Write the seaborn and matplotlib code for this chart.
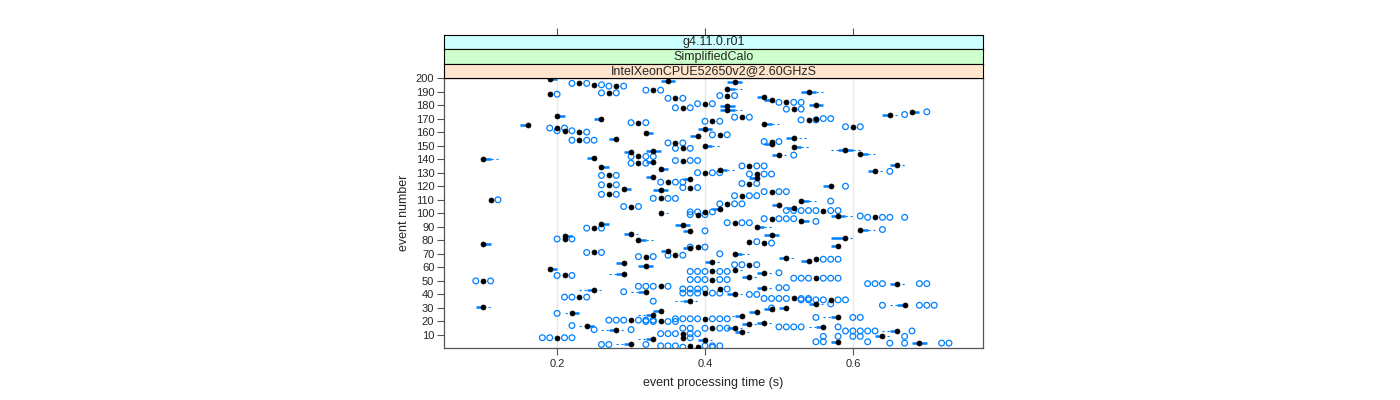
import matplotlib
matplotlib.use("Agg")
import matplotlib.pyplot as plt
import pandas as pd
import seaborn as sns

# events where the box collapsed onto the median (only dot + outliers)
dot_event = [196, 195, 194, 189, 188, 163, 161, 160, 154, 128, 121, 114, 110, 105,
             191, 187, 185, 182, 181, 171, 178, 177, 169, 170, 168, 164, 158, 102,
             153, 139, 135, 130, 129, 122, 119, 116, 113, 107, 167, 152, 148, 142,
             137, 123, 111, 101, 99,
             97, 96, 93, 89, 81, 79, 78, 75, 71, 69, 68, 66, 62, 57, 54, 52, 51, 50,
             46, 44, 41, 38, 37, 36, 22, 21, 20, 15, 11, 8, 8, 2, 1]
dot_median = [.23, .25, .28, .27, .19, .20, .21, .23, .23, .27, .27, .27, .11, .30,
              .33, .43, .36, .51, .40, .45, .37, .52, .54, .55, .41, .60, .42, .56,
              .49, .37, .46, .40, .47, .46, .38, .49, .45, .43, .31, .36, .37, .31,
              .31, .35, .34, .40, .39,
              .63, .49, .44, .25, .21, .46, .48, .39, .25, .36, .32, .55, .46, .41, .21, .55, .41, .10,
              .34, .42, .40, .23, .52, .57, .40, .30, .34, .41, .37, .20, .37, .38, .39]

# events with a visible box / whiskers
box_event = [199, 172, 170, 165, 155, 141, 140, 134, 118, 198, 197, 192, 186, 184,
             190, 180, 179, 176, 173, 175, 166, 162, 157, 156, 149, 147, 144, 136,
             131, 120, 109, 151, 143, 132, 126, 125, 103, 106, 104, 159, 150, 146,
             145, 138, 133, 127, 117, 100,
             98, 94, 92, 91, 90, 88, 87, 85, 84, 83, 82, 80, 77, 76, 74, 72, 70, 67,
             65, 64, 63, 61, 59, 58, 56, 55, 53, 48, 45, 43, 42, 40, 35, 33, 32, 31,
             30, 29, 28, 27, 26, 25, 24, 23, 19, 18, 17, 16, 15, 14, 13, 12, 9, 7, 6,
             5, 4, 3]
box_median = [.19, .20, .26, .16, .28, .25, .10, .26, .29, .35, .44, .43, .48, .49,
              .54, .55, .43, .43, .65, .68, .48, .40, .39, .52, .52, .59, .61, .66,
              .63, .57, .53, .49, .50, .42, .47, .38, .42, .50, .52, .32, .40, .33,
              .30, .33, .34, .33, .34, .34,
              .58, .53, .26, .37, .47, .61, .38, .30, .49, .21, .59, .31, .10, .58, .38, .35, .44, .51,
              .54, .41, .29, .32, .19, .44, .48, .29, .46, .66, .48, .25, .32, .44, .38, .55, .67, .10,
              .51, .49, .34, .47, .22, .33, .45, .58, .48, .46, .24, .56, .44, .28, .66, .45, .64, .33, .40,
              .58, .69, .30]
box_q1 = [.19, .20, .25, .15, .27, .24, .10, .26, .29, .34, .43, .43, .47, .48,
          .53, .54, .42, .42, .64, .68, .48, .39, .38, .51, .52, .58, .61, .65,
          .62, .56, .53, .48, .49, .42, .46, .37, .41, .49, .51, .32, .40, .32,
          .29, .32, .34, .32, .33, .34,
          .57, .53, .26, .36, .47, .61, .37, .29, .48, .21, .57, .31, .10, .57, .37, .34, .44, .50,
          .53, .40, .28, .31, .19, .44, .47, .28, .45, .65, .47, .24, .31, .43, .37, .54, .66, .09,
          .50, .48, .33, .46, .22, .32, .44, .57, .47, .45, .24, .55, .43, .27, .65, .44, .63, .32, .39,
          .57, .68, .29]
box_q3 = [.20, .21, .26, .16, .28, .25, .11, .27, .30, .36, .45, .44, .48, .49,
          .55, .56, .44, .44, .65, .69, .49, .41, .39, .52, .53, .60, .62, .66,
          .63, .57, .54, .49, .50, .43, .47, .38, .42, .50, .52, .33, .41, .34,
          .30, .33, .35, .33, .35, .34,
          .59, .54, .27, .38, .48, .62, .38, .30, .50, .22, .59, .32, .11, .58, .38, .35, .45, .51,
          .54, .41, .29, .33, .20, .44, .48, .29, .46, .66, .48, .25, .32, .44, .38, .55, .67, .10,
          .51, .49, .34, .47, .23, .33, .45, .58, .48, .46, .25, .56, .44, .28, .66, .45, .64, .33, .40,
          .58, .70, .30]
box_wlo = [.19, .20, .25, .15, .27, .24, .10, .26, .29, .34, .43, .43, .47, .48,
           .53, .54, .42, .42, .64, .68, .48, .39, .38, .51, .52, .57, .61, .65,
           .62, .56, .53, .48, .49, .42, .46, .37, .41, .49, .51, .32, .40, .32,
           .29, .32, .34, .32, .33, .34,
           .57, .53, .26, .36, .47, .61, .37, .29, .48, .21, .57, .31, .10, .57, .37, .34, .44, .50,
           .53, .40, .28, .31, .19, .44, .47, .27, .45, .65, .47, .23, .30, .43, .36, .54, .65, .09,
           .50, .48, .33, .46, .21, .31, .43, .56, .47, .45, .23, .54, .43, .26, .64, .44, .63, .31, .39,
           .57, .68, .28]
box_whi = [.20, .21, .26, .16, .28, .25, .12, .27, .30, .36, .45, .45, .48, .49,
           .56, .56, .44, .45, .66, .69, .50, .41, .39, .54, .54, .61, .63, .67,
           .64, .57, .55, .49, .51, .44, .47, .38, .42, .50, .52, .33, .42, .34,
           .30, .33, .35, .33, .35, .35,
           .60, .54, .27, .38, .49, .63, .38, .31, .50, .22, .60, .33, .11, .58, .38, .35, .46, .52,
           .54, .42, .29, .33, .20, .45, .49, .29, .47, .67, .49, .26, .32, .45, .39, .56, .67, .11,
           .51, .49, .34, .47, .23, .33, .45, .58, .49, .47, .25, .56, .45, .29, .66, .46, .65, .33, .41,
           .58, .70, .30]

# outlying runs of each event
out_event = [196, 195, 194, 189, 188, 163, 161, 160, 154, 128, 121, 114, 110, 105,
             191, 187, 185, 182, 181, 171, 178, 177, 173, 175, 169, 170, 168, 164,
             158, 131, 120, 109, 102, 153, 143, 139, 135, 130, 129, 122, 119, 116,
             113, 107, 167, 152, 148, 142, 137, 123, 111, 101, 99,
             98, 97, 96, 94, 93, 89, 88, 87, 81, 79, 78, 75, 71, 70, 69, 68, 66, 62,
             57, 56, 54, 52, 51, 50, 48, 46, 45, 44, 42, 41, 40, 38, 37, 36, 35, 33,
             32, 30, 26, 23, 22, 21, 20, 17, 16, 15, 14, 13, 11, 9, 8, 5, 4, 3, 2, 1]
out_times = [[.22, .24], [.26], [.27, .29], [.26, .28], [.20], [.19, .21], [.20, .22],
             [.24], [.22, .24, .25], [.26, .28], [.26, .28], [.26, .28], [.12], [.29, .31],
             [.32, .34], [.42, .44], [.35, .37], [.50, .52, .53], [.39, .41], [.44, .46],
             [.36, .38], [.51, .53], [.67], [.70], [.53, .55], [.56, .57], [.40, .42],
             [.59, .61], [.41, .43], [.65], [.59], [.57], [.51, .52, .53, .54, .55, .57, .58],
             [.48, .50], [.52], [.36, .38, .39], [.45, .47, .48], [.39, .41, .42],
             [.46, .48, .49], [.45, .47], [.37, .39], [.48, .50, .51], [.44, .46, .47],
             [.42, .44, .45], [.30, .32], [.35, .37], [.36, .38], [.30, .32, .33],
             [.30, .32], [.34, .36, .37], [.33, .35, .36], [.38, .39, .41], [.38, .40],
             [.61], [.62, .64, .65, .67], [.48, .50, .51, .52], [.55], [.43, .45, .46],
             [.24, .26], [.64], [.40], [.20, .22], [.47], [.49], [.38, .40], [.24, .26],
             [.42], [.35, .37], [.31, .33], [.56, .57, .58], [.44, .45, .47],
             [.38, .39, .40, .42, .43], [.50], [.20, .22], [.52, .53, .54, .56, .57, .58],
             [.38, .39, .40, .42, .43], [.09, .11], [.62, .63, .64, .69, .70],
             [.31, .32, .33, .35], [.50, .51], [.37, .38, .39, .40, .43], [.29],
             [.37, .38, .39, .41, .42], [.46, .47], [.21, .22, .24],
             [.48, .49, .50, .51, .53, .54], [.53, .54, .55, .56, .58, .59], [.33], [.57],
             [.64, .69, .70, .71], [.49], [.20], [.55, .60, .61],
             [.36, .37, .38, .39, .41, .42, .43], [.27, .28, .29, .31, .32, .33],
             [.32, .33, .35, .36], [.22], [.50, .51, .52, .53, .58], [.37, .38, .40, .42, .43],
             [.25, .30], [.59, .60, .61, .62, .63, .68], [.34, .35, .36, .38, .39],
             [.56, .58, .60, .61, .67], [.18, .19, .21, .22, .38], [.55, .56, .62],
             [.65, .67, .72, .73], [.26, .27, .32], [.34, .35, .36, .40, .41, .42], [.37, .41]]

x_ticks = [0.2, 0.4, 0.6]
y_ticks = list(range(10, 201, 10))
strip_labels = ["g4.11.0.r01", "SimplifiedCalo", "IntelXeonCPUE52650v2@2.60GHzS"]
strip_colors = ["#ccffff", "#ccffcc", "#ffe5cc"]

boxes = pd.DataFrame({"event": box_event, "median": box_median, "q1": box_q1,
                      "q3": box_q3, "wlo": box_wlo, "whi": box_whi})
medians = pd.concat([
    pd.DataFrame({"event": dot_event, "time": dot_median}),
    boxes[["event", "median"]].rename(columns={"median": "time"}),
])
outliers = pd.DataFrame({"event": out_event, "time": out_times}).explode("time")
outliers["time"] = outliers["time"].astype(float)

sns.set_style("white")
plt.rcParams["font.family"] = ["Liberation Sans", "DejaVu Sans"]
blue = "#0080ff"

fig = plt.figure(figsize=(14, 4), dpi=100)
W, H = 1400, 400
left, right, bottom, top = 444, 983, 348, 78
ax = fig.add_axes([left / W, 1 - bottom / H, (right - left) / W, (bottom - top) / H])

for x in x_ticks:
    ax.axvline(x, color="#e8e8e8", lw=1, zorder=0)

# whiskers (dashed) and boxes (thick)
ax.hlines(boxes["event"], boxes["wlo"], boxes["q1"], color=blue, lw=0.8,
          linestyles=(0, (2, 2.5)), zorder=1)
ax.hlines(boxes["event"], boxes["q3"], boxes["whi"], color=blue, lw=0.8,
          linestyles=(0, (2, 2.5)), zorder=1)
ax.hlines(boxes["event"], boxes["q1"], boxes["q3"], color=blue, lw=1.8, zorder=2)

sns.scatterplot(data=outliers, x="time", y="event", ax=ax, marker="o", s=17,
                facecolor="none", edgecolor=blue, linewidth=0.9, zorder=3, legend=False)
sns.scatterplot(data=medians, x="time", y="event", ax=ax, marker="o", s=13,
                color="black", edgecolor="black", linewidth=0.5, zorder=4, legend=False)

ax.set_xlim(0.047, 0.776)
ax.set_ylim(0.4, 200.0)
ax.set_xticks(x_ticks)
ax.set_xticklabels([f"{v:.1f}" for v in x_ticks])
ax.set_yticks(y_ticks)
ax.tick_params(axis="both", direction="out", length=5, width=0.8, color="#555555",
               labelsize=8, pad=3, left=True, bottom=True)
ax.tick_params(axis="y", pad=2)
ax.set_xlabel("event processing time (s)", fontsize=9, labelpad=6)
ax.set_ylabel("event number", fontsize=9, labelpad=4)
for s in ax.spines.values():
    s.set_color("#555555")
    s.set_linewidth(0.9)

# strips on top of the panel
strip_h = 14.5
for i, (lab, col) in enumerate(zip(strip_labels, strip_colors)):
    y0 = top - (len(strip_labels) - i) * strip_h
    sax = fig.add_axes([left / W, 1 - (y0 + strip_h) / H, (right - left) / W, strip_h / H],
                       sharex=ax)
    sax.set_facecolor(col)
    sax.set_yticks([])
    sax.text(0.5, 0.45, lab, transform=sax.transAxes, ha="center", va="center", fontsize=9)
    for s in sax.spines.values():
        s.set_color("black")
        s.set_linewidth(0.8)
    if i == 0:
        sax.tick_params(axis="x", bottom=False, labelbottom=False, top=True,
                        direction="out", length=5, width=0.8, color="#555555")
    else:
        sax.tick_params(axis="x", bottom=False, labelbottom=False)

fig.savefig("out.png", dpi=100)
